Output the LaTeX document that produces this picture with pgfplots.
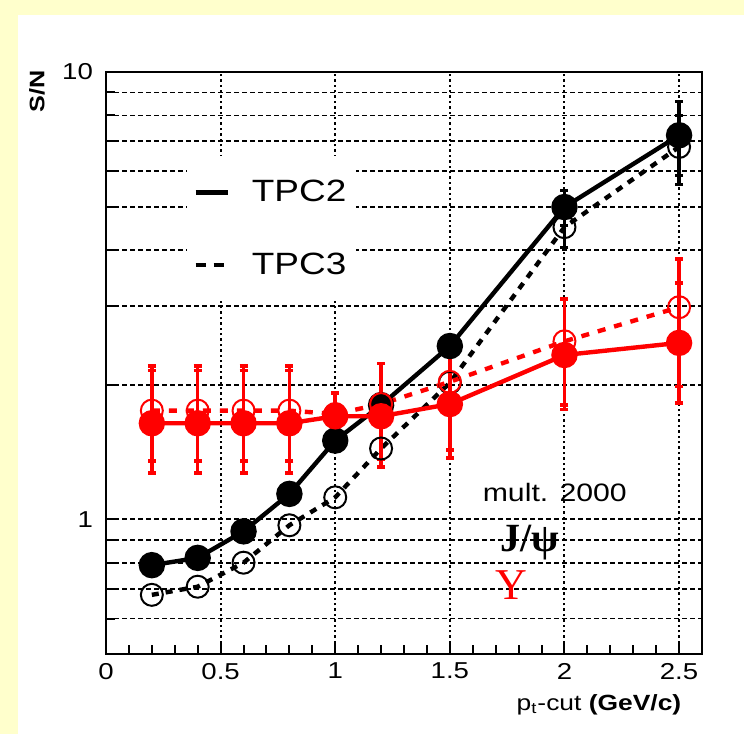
\documentclass[border=0pt]{standalone}
\usepackage{fontspec}
\setmainfont{Liberation Sans}[FakeStretch=1.2]
\newfontfamily\serifgr{Liberation Serif}
\usepackage{pgfplots}
\pgfplotsset{compat=1.18}
\definecolor{bgyellow}{HTML}{FFFFCC}
\begin{document}
\begin{tikzpicture}
\fill[bgyellow] (0pt,0pt) rectangle (372pt,367pt);
\fill[white] (9pt,0pt) rectangle (372pt,359.5pt);
\begin{axis}[
  at={(53pt,40pt)}, anchor=south west,
  scale only axis, width=298pt, height=291pt,
  xmin=0, xmax=2.6, ymode=log, ymin=0.5, ymax=10,
  xtick={0,0.5,1,1.5,2,2.5},
  xticklabels={0,0.5,1,1.5,2,2.5},
  minor x tick num=4,
  ytick={1,10}, yticklabels={1,10},
  minor ytick={0.6,0.7,0.8,0.9,2,3,4,5,6,7,8,9},
  xmajorgrids, ymajorgrids, yminorgrids,
  major x grid style={black, line width=1pt, dash pattern=on 1.2pt off 1.5pt},
  major y grid style={black, line width=0.85pt, dash pattern=on 2.5pt off 1.5pt},
  minor y grid style={black, line width=0.85pt, dash pattern=on 2.5pt off 1.5pt},
  axis line style={line width=1.2pt},
  every tick/.style={black, line width=1pt},
  tick align=inside,
  xtick pos=bottom, ytick pos=left,
  major tick length=6pt, minor tick length=4.5pt,
  ticklabel style={font=\fontsize{11.5}{13}\selectfont},
  /pgf/number format/assume math mode=true,
  xticklabel style={yshift=-1pt},
  yticklabel style={xshift=-3pt},
  xlabel={p\textsubscript{t}-cut {\bfseries (GeV/c)}},
  xlabel style={at={(rel axis cs:0.977,-0.0876)}, anchor=east, font=\fontsize{11}{12}\selectfont},
  ylabel={\bfseries S/N},
  ylabel style={at={(rel axis cs:-0.116,0.966)}, anchor=center, font=\fontsize{10.5}{12}\selectfont},
  legend style={at={(0.136,0.856)}, anchor=north west, draw=none, fill=white,
    inner xsep=3pt, inner ysep=10pt, row sep=20pt,
    font=\fontsize{15.4}{16}\selectfont,
    /tikz/every odd column/.append style={column sep=9pt}},
  legend cell align=left,
  legend image code/.code={\draw[#1] (0pt,0pt) -- (16pt,0pt);},
  clip=false,
]
\addlegendimage{black, line width=2.2pt}
\addlegendimage{black, line width=2.2pt, dash pattern=on 5pt off 4pt}
\legend{TPC2,TPC3}

% J/psi TPC3 (open, dotted)
\addplot[black, line width=2.2pt, dash pattern=on 3.5pt off 3.5pt,
  mark=o, mark size=5.5pt, mark options={solid, line width=1pt, fill=white},
  error bars/.cd, y dir=both, y explicit,
  error bar style={solid, line width=1.6pt, black},
  error mark options={rotate=90, mark size=2pt, line width=1.6pt}]
coordinates {
(0.2,0.678) (0.4,0.707) (0.6,0.80) (0.8,0.97) (1.0,1.12) (1.2,1.44)
(1.5,2.02) (2.0,4.50) +- (0,0.44) (2.5,6.80) +- (0,1.2)
};
% J/psi TPC2 (filled, solid)
\addplot[black, line width=2.2pt,
  mark=*, mark size=5.5pt, mark options={solid},
  error bars/.cd, y dir=both, y explicit,
  error bar style={solid, line width=1.6pt, black},
  error mark options={rotate=90, mark size=2pt, line width=1.6pt}]
coordinates {
(0.2,0.79) (0.4,0.82) (0.6,0.94) (0.8,1.14) (1.0,1.50) (1.2,1.80)
(1.5,2.44) (2.0,4.99) +- (0,0.45) (2.5,7.22) +- (0,1.36)
};
% Upsilon TPC3 (open, dashed)
\addplot[red, line width=2.2pt, dash pattern=on 4pt off 4.5pt,
  mark=o, mark size=5.5pt, mark options={solid, line width=1pt},
  error bars/.cd, y dir=both, y explicit,
  error bar style={solid, line width=1.8pt, red},
  error mark options={rotate=90, mark size=2pt, line width=1.8pt, red}]
coordinates {
(0.2,1.75) += (0,0.45) -= (0,0.40)
(0.4,1.75) += (0,0.45) -= (0,0.40)
(0.6,1.75) += (0,0.45) -= (0,0.40)
(0.8,1.75) += (0,0.45) -= (0,0.40)
(1.0,1.72) += (0,0.20) -= (0,0.20)
(1.2,1.81) += (0,0.42) -= (0,0.45)
(1.5,2.03) += (0,0.45) -= (0,0.60)
(2.0,2.50) += (0,0.60) -= (0,0.70)
(2.5,2.98) += (0,0.84) -= (0,1.00)
};
% Upsilon TPC2 (filled, solid)
\addplot[red, line width=2.2pt,
  mark=*, mark size=5.5pt, mark options={solid},
  error bars/.cd, y dir=both, y explicit,
  error bar style={solid, line width=1.8pt, red},
  error mark options={rotate=90, mark size=2pt, line width=1.8pt, red}]
coordinates {
(0.2,1.64) += (0,0.51) -= (0,0.37)
(0.4,1.64) += (0,0.51) -= (0,0.37)
(0.6,1.64) += (0,0.51) -= (0,0.37)
(0.8,1.64) += (0,0.51) -= (0,0.37)
(1.0,1.70) += (0,0.21) -= (0,0.25)
(1.2,1.70) += (0,0.53) -= (0,0.39)
(1.5,1.81) += (0,0.67) -= (0,0.44)
(2.0,2.33) += (0,0.78) -= (0,0.57)
(2.5,2.48) += (0,0.90) -= (0,0.66)
};

\node[font=\fontsize{12.6}{14}\selectfont] at (rel axis cs:0.753,0.278) {mult. 2000};
\node[font=\serifgr\bfseries\fontsize{20}{22}\selectfont] at (rel axis cs:0.711,0.191) {J/ψ};
\node[font=\serifgr\fontsize{22}{24}\selectfont, text=red] at (rel axis cs:0.681,0.1186) {Υ};
\end{axis}
\end{tikzpicture}
\end{document}
